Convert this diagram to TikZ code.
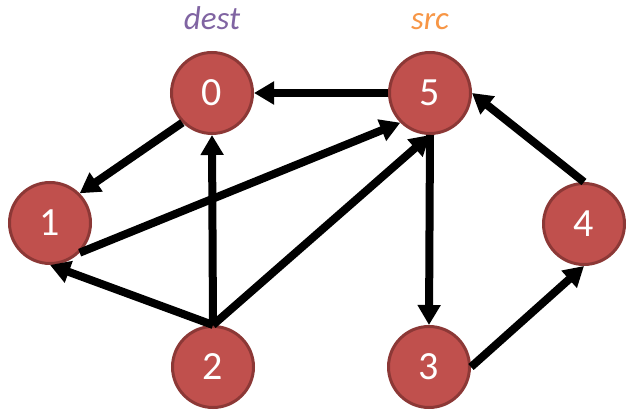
\documentclass[tikz,border=0pt]{standalone}
\usepackage{fontspec}
\setmainfont{Carlito}
\usetikzlibrary{arrows.meta,positioning}

\definecolor{vertexfill}{HTML}{C0504D}
\definecolor{vertexline}{HTML}{8C3836}
\definecolor{destcol}{HTML}{8064A2}
\definecolor{srccol}{HTML}{F79646}

\begin{document}
\begin{tikzpicture}[x=1pt,y=-1pt,>={Triangle[length=20pt,width=22pt]},
                    line width=8pt,
                    main node/.style={circle,draw=vertexline,fill=vertexfill,line width=3pt,
                                      minimum size=81pt,inner sep=0pt,text=white,
                                      font=\fontsize{40}{42}\selectfont},
                    tag/.style={inner sep=0pt,font=\fontsize{33}{35}\selectfont\itshape}]
  \useasboundingbox (0,0) rectangle (627,411);
  \node[main node] (0) at (212,93) {0};
  \node[main node] (5) at (430,93) {5};
  \node[main node] (1) at (50,223) {1};
  \node[main node] (4) at (584,224) {4};
  \node[main node] (2) at (213,367) {2};
  \node[main node] (3) at (429,367) {3};
  \node[tag,text=destcol] (d) [above=17pt of 0] {dest};
  \node[tag,text=srccol] (s) [above=17pt of 5] {src};
  \path[->]
    (5.west) edge (0.east)
    (0.south west) edge (1.north east)
    (1.south east) edge (5.south west)
    (2.north) edge (1.south)
              edge (0.south)
              edge (5.south)
    (5.south) edge (3.north)
    (3.east) edge (4.south)
    (4.north) edge (5.east);
\end{tikzpicture}
\end{document}
